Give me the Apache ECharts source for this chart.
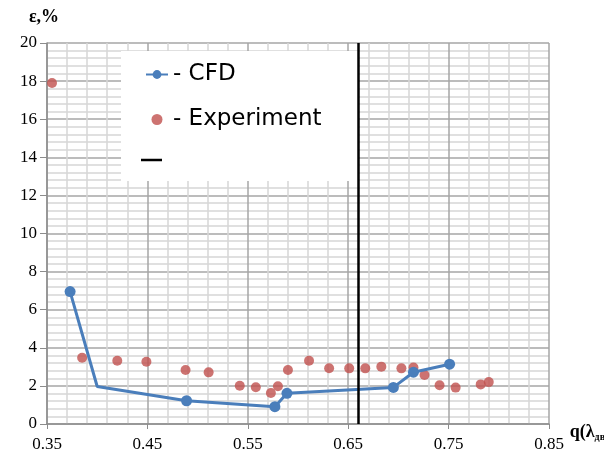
<!DOCTYPE html>
<html><head><meta charset="utf-8">
<script src="https://cdn.jsdelivr.net/npm/echarts@6/dist/echarts.min.js"></script>
<style>html,body{margin:0;padding:0;background:#fff}#c{width:604px;height:459px}</style>
</head><body><div id="c"></div>
<script>
// CFD series (corner point at index 1 has no marker in the original)
const cfdX = [0.373, 0.400, 0.489, 0.577, 0.589, 0.695, 0.715, 0.751];
const cfdY = [6.95, 1.97, 1.22, 0.91, 1.61, 1.92, 2.72, 3.14];
const cfdNoMarker = [1];
// Experiment points
const expX = [0.355, 0.385, 0.420, 0.449, 0.488, 0.511, 0.542, 0.558, 0.573, 0.580, 0.590, 0.611, 0.631, 0.651, 0.667, 0.683, 0.703, 0.715, 0.726, 0.741, 0.757, 0.782, 0.790];
const expY = [17.9, 3.48, 3.32, 3.27, 2.83, 2.71, 2.01, 1.93, 1.63, 1.98, 2.83, 3.32, 2.93, 2.92, 2.92, 3.01, 2.92, 2.96, 2.57, 2.03, 1.91, 2.08, 2.2];
// vertical reference line
const refX = [0.6625];
const xTicks = [0.35, 0.45, 0.55, 0.65, 0.75, 0.85];
const yTicks = [0, 2, 4, 6, 8, 10, 12, 14, 16, 18, 20];

const serif = 'Liberation Serif, Times New Roman, serif';
const chart = echarts.init(document.getElementById('c'));
chart.setOption({
  animation: false,
  backgroundColor: '#fff',
  grid: {left: 47, right: 55, top: 43, bottom: 35, containLabel: false, outerBoundsMode: 'none'},
  xAxis: {
    type: 'value', min: xTicks[0], max: xTicks[xTicks.length-1], interval: 0.1,
    name: '{a|q(λ}{b|дв}{a|)}', nameLocation: 'end', nameGap: 9,
    nameTextStyle: {padding: [16, 0, 0, 0], rich: {
      a: {fontFamily: serif, fontWeight: 'bold', fontSize: 18, color: '#000'},
      b: {fontFamily: serif, fontWeight: 'bold', fontSize: 10, color: '#000', padding: [10, 0, 0, 0]}
    }},
    axisLine: {show: true, lineStyle: {color: '#8c8c8c', width: 1.5}},
    axisTick: {show: true, length: 5, lineStyle: {color: '#8c8c8c'}},
    axisLabel: {fontFamily: serif, fontSize: 17, color: '#000', margin: 12,
      formatter: v => v.toFixed(2)},
    splitLine: {show: true, lineStyle: {color: '#a6a6a6', width: 1.5}},
    minorTick: {show: false, splitNumber: 5},
    minorSplitLine: {show: true, lineStyle: {color: '#d6d6d6', width: 1.5}}
  },
  yAxis: {
    type: 'value', min: yTicks[0], max: yTicks[yTicks.length-1], interval: 2,
    name: 'ε,%', nameLocation: 'end', nameGap: 17,
    nameTextStyle: {fontFamily: serif, fontWeight: 'bold', fontSize: 18, color: '#000', align: 'center', padding: [0, 0, 0, -6]},
    axisLine: {show: true, lineStyle: {color: '#8c8c8c', width: 1.5}},
    axisTick: {show: true, length: 7, lineStyle: {color: '#8c8c8c'}},
    axisLabel: {fontFamily: serif, fontSize: 17, color: '#000', margin: 10},
    splitLine: {show: true, lineStyle: {color: '#a6a6a6', width: 1.5}},
    minorTick: {show: false, splitNumber: 5},
    minorSplitLine: {show: true, lineStyle: {color: '#d6d6d6', width: 1.5}}
  },
  legend: {
    orient: 'vertical', left: 140, top: 58, itemGap: 22, itemWidth: 22, itemHeight: 11,
    textStyle: {fontFamily: 'DejaVu Sans, sans-serif', fontSize: 23, color: '#000'},
    formatter: n => '- ' + n,
    data: ['CFD', {name: 'Experiment', icon: 'circle'}]
  },
  graphic: [
    {type: 'rect', shape: {x: 121, y: 51, width: 237, height: 130}, style: {fill: '#fff'}, z: 1, silent: true},
    {type: 'line', shape: {x1: 141, y1: 160, x2: 162, y2: 160}, style: {stroke: '#000', lineWidth: 2.5}, z: 3, silent: true}
  ],
  series: [
    {
      name: 'CFD', type: 'line', z: 4,
      data: cfdX.map((x, i) => cfdNoMarker.includes(i) ? {value: [x, cfdY[i]], symbol: 'none'} : [x, cfdY[i]]),
      symbol: 'circle', symbolSize: 11, showSymbol: true,
      itemStyle: {color: '#4a7ebb'}, lineStyle: {color: '#4a7ebb', width: 3}
    },
    {
      name: 'Experiment', type: 'scatter', z: 3,
      data: expX.map((x, i) => [x, expY[i]]),
      symbol: 'circle', symbolSize: 10, itemStyle: {color: '#c0504d'}
    },
    {
      name: 'ref', type: 'line', data: [], z: 5,
      markLine: {silent: true, symbol: 'none', label: {show: false},
        lineStyle: {color: '#000', width: 2.5, type: 'solid'},
        data: refX.map(x => ({xAxis: x}))}
    }
  ]
});
</script></body></html>
